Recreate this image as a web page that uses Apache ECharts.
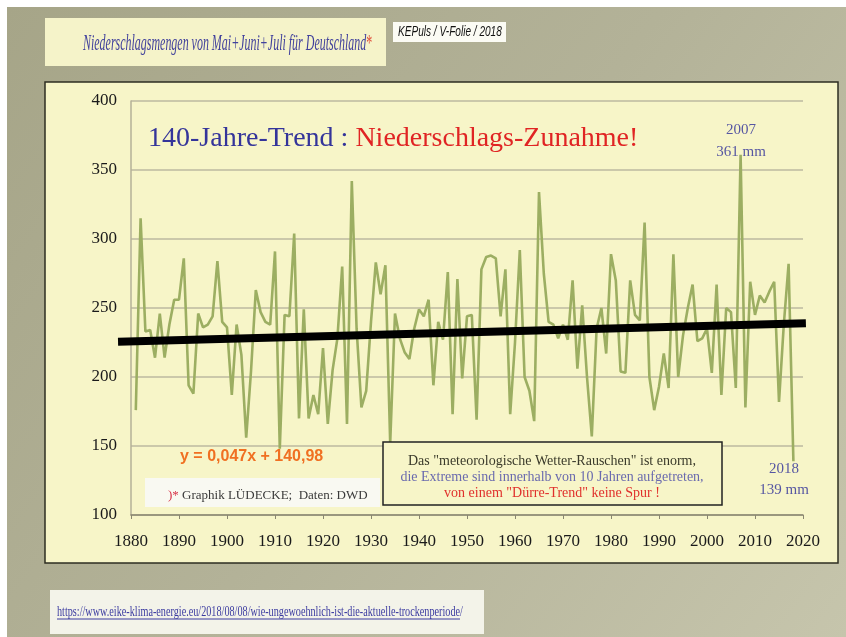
<!DOCTYPE html>
<html><head><meta charset="utf-8">
<script src="https://cdn.jsdelivr.net/npm/echarts@6/dist/echarts.min.js"></script>
<style>html,body{margin:0;padding:0;background:#fff}#c{width:846px;height:637px}</style>
</head><body><div id="c"></div>
<script>
// ---- data ----
const years = [1881,1882,1883,1884,1885,1886,1887,1888,1889,1890,
1891,1892,1893,1894,1895,1896,1897,1898,1899,1900,
1901,1902,1903,1904,1905,1906,1907,1908,1909,1910,
1911,1912,1913,1914,1915,1916,1917,1918,1919,1920,
1921,1922,1923,1924,1925,1926,1927,1928,1929,1930,
1931,1932,1933,1934,1935,1936,1937,1938,1939,1940,
1941,1942,1943,1944,1945,1946,1947,1948,1949,1950,
1951,1952,1953,1954,1955,1956,1957,1958,1959,1960,
1961,1962,1963,1964,1965,1966,1967,1968,1969,1970,
1971,1972,1973,1974,1975,1976,1977,1978,1979,1980,
1981,1982,1983,1984,1985,1986,1987,1988,1989,1990,
1991,1992,1993,1994,1995,1996,1997,1998,1999,2000,
2001,2002,2003,2004,2005,2006,2007,2008,2009,2010,
2011,2012,2013,2014,2015,2016,2017,2018];
const precip = [176,315,233,234,214,246,214,238,256,256,
286,194,188,246,236,238,244,284,240,236,
187,238,216,156,204,263,247,240,238,291,
148,245,244,304,170,249,170,187,173,221,
166,205,228,280,166,342,235,178,190,240,
283,260,281,152,246,228,218,213,235,249,
244,256,194,240,227,276,173,271,199,244,
245,169,278,287,288,286,244,278,173,225,
292,200,190,168,334,275,240,238,228,238,
227,270,206,252,200,157,235,250,217,289,
270,204,203,270,245,241,312,200,176,193,
217,192,289,200,230,250,267,226,228,235,
203,267,187,250,247,192,361,178,269,245,
259,254,262,269,182,238,282,139];
const trendYears = [1877.3, 2020.6];
const trendValues = [225.5, 239];
const xMin = 1880, xMax = 2020, xStep = 10;
const yMin = 100, yMax = 400, yStep = 50;

const chart = echarts.init(document.getElementById('c'), null, {renderer:'canvas'});
const serif = "'Liberation Serif','DejaVu Serif',serif";
const sans = "'Liberation Sans','DejaVu Sans',sans-serif";
const pxPerYear = 672 / (xMax - xMin);

chart.setOption({
  animation:false,
  backgroundColor:'#ffffff',
  grid:[
    {left:131, right:43, top:101, bottom:122, containLabel:false},
    {left:131 - (xMin - trendYears[0]) * pxPerYear, right:43 - (trendYears[1] - xMax) * pxPerYear, top:101, bottom:122, containLabel:false}
  ],
  xAxis:[
    {type:'value', gridIndex:0, min:xMin, max:xMax, interval:xStep,
    axisLine:{show:true, onZero:false, lineStyle:{color:'#8a8670', width:1.5}},
    axisTick:{show:true, length:4, lineStyle:{color:'#8a8670'}},
    splitLine:{show:false},
    axisLabel:{color:'#1a1a1a', fontFamily:serif, fontSize:17, margin:18, formatter:v=>String(v)}},
    {type:'value', gridIndex:1, min:trendYears[0], max:trendYears[1], show:false}
  ],
  yAxis:[
    {type:'value', gridIndex:0, min:yMin, max:yMax, interval:yStep,
    axisLine:{show:true, lineStyle:{color:'#b5b198', width:1.5}},
    axisTick:{show:false},
    splitLine:{show:true, lineStyle:{color:'#bdb9a0', width:1.5}},
    axisLabel:{color:'#1a1a1a', fontFamily:serif, fontSize:17, margin:14}},
    {type:'value', gridIndex:1, min:yMin, max:yMax, show:false}
  ],
  series:[
    {type:'line', data:years.map((y,i)=>[y,precip[i]]), symbol:'none',
     lineStyle:{color:'#9cae62', width:2.6}, z:3},
    {type:'line', xAxisIndex:1, yAxisIndex:1, data:trendYears.map((y,i)=>[y,trendValues[i]]), symbol:'none', clip:false,
     lineStyle:{color:'#000', width:8}, z:4}
  ],
  graphic:[
    {type:'rect', z:-20, shape:{x:7,y:7,width:839,height:630},
     style:{fill:{type:'linear',x:0,y:0,x2:1,y2:1,colorStops:[{offset:0,color:'#a6a588'},{offset:0.5,color:'#b3b298'},{offset:1,color:'#c6c5ac'}]}}},
    {type:'rect', z:-15, shape:{x:45,y:18,width:341,height:48}, style:{fill:'#f5f3c9'}},
    {type:'rect', z:-15, shape:{x:393,y:22,width:113,height:20}, style:{fill:'#fbfbf4'}},
    {type:'rect', z:-15, shape:{x:45,y:82,width:793,height:481}, style:{fill:'#f7f5c8', stroke:'#2e2e22', lineWidth:1.5}},
    {type:'rect', z:-15, shape:{x:50,y:590,width:434,height:44}, style:{fill:'#f3f3e9'}},
    {type:'text', z:50, x:83, y:44, scaleX:0.52,
     style:{text:'{a|Niederschlagsmengen von Mai+Juni+Juli für Deutschland}{b|*}', verticalAlign:'middle',
       rich:{a:{fontFamily:serif, fontStyle:'italic', fontSize:23, fill:'#41419c'}, b:{fontFamily:serif, fontSize:23, fill:'#e0503c'}}}},
    {type:'text', z:50, x:398, y:32, scaleX:0.72,
     style:{text:'KEPuls / V-Folie / 2018', verticalAlign:'middle', fontFamily:sans, fontStyle:'italic', fontSize:14, fill:'#111'}},
    {type:'text', z:50, x:148, y:139,
     style:{text:'{a|140-Jahre-Trend : }{b|Niederschlags-Zunahme!}', verticalAlign:'middle',
       rich:{a:{fontFamily:serif, fontSize:28, fill:'#34349a'}, b:{fontFamily:serif, fontSize:28, fill:'#e02424'}}}},
    {type:'text', z:50, x:741, y:130, style:{text:'2007', align:'center', verticalAlign:'middle', fontFamily:serif, fontSize:15, fill:'#5656a2'}},
    {type:'text', z:50, x:741, y:152, style:{text:'361 mm', align:'center', verticalAlign:'middle', fontFamily:serif, fontSize:15, fill:'#5656a2'}},
    {type:'text', z:50, x:784, y:469, style:{text:'2018', align:'center', verticalAlign:'middle', fontFamily:serif, fontSize:15, fill:'#5656a2'}},
    {type:'text', z:50, x:784, y:490, style:{text:'139 mm', align:'center', verticalAlign:'middle', fontFamily:serif, fontSize:15, fill:'#5656a2'}},
    {type:'text', z:50, x:180, y:457, style:{text:'y = 0,047x + 140,98', verticalAlign:'middle', fontFamily:sans, fontWeight:'bold', fontSize:16, fill:'#f07022'}},
    {type:'rect', z:40, shape:{x:145,y:478,width:235,height:29}, style:{fill:'#f9f9f2'}},
    {type:'text', z:50, x:168, y:496,
     style:{text:'{a|)* }{b|Graphik LÜDECKE;  Daten: DWD}', verticalAlign:'middle',
       rich:{a:{fontFamily:serif, fontSize:13, fill:'#d8354a'}, b:{fontFamily:serif, fontSize:13, fill:'#3a3a3a'}}}},
    {type:'rect', z:40, shape:{x:383,y:442,width:339,height:63}, style:{fill:'#f7f5c8', stroke:'#222', lineWidth:1.5}},
    {type:'text', z:50, x:552, y:461, style:{text:'Das "meteorologische Wetter-Rauschen" ist enorm,', align:'center', verticalAlign:'middle', fontFamily:serif, fontSize:14, fill:'#3a3a2a'}},
    {type:'text', z:50, x:552, y:477, style:{text:'die Extreme sind innerhalb von 10 Jahren aufgetreten,', align:'center', verticalAlign:'middle', fontFamily:serif, fontSize:14, fill:'#6a6aae'}},
    {type:'text', z:50, x:552, y:493, style:{text:'von einem "Dürre-Trend" keine Spur !', align:'center', verticalAlign:'middle', fontFamily:serif, fontSize:14, fill:'#e0302c'}},
    {type:'text', z:50, x:57, y:612, scaleX:0.68,
     style:{text:'https://www.eike-klima-energie.eu/2018/08/08/wie-ungewoehnlich-ist-die-aktuelle-trockenperiode/', verticalAlign:'middle', fontFamily:serif, fontSize:15, fill:'#3b3ba0'}},
    {type:'line', z:50, shape:{x1:57,y1:619,x2:460,y2:619}, style:{stroke:'#3b3ba0', lineWidth:1}}
  ]
});
</script></body></html>
